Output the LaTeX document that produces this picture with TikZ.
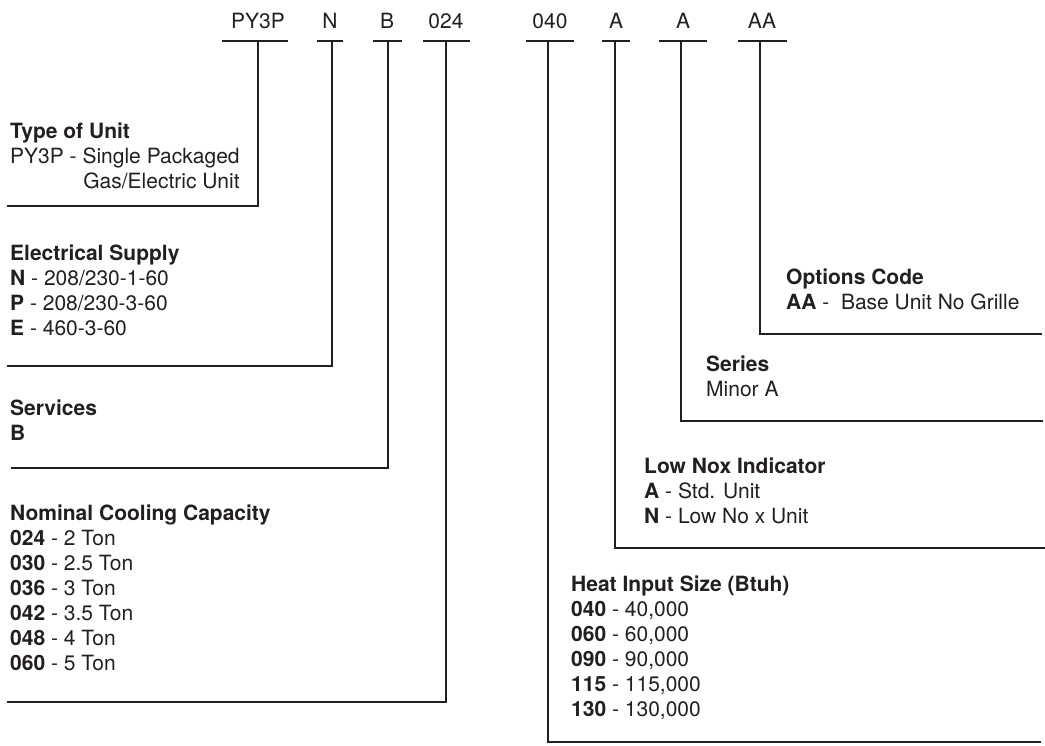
\documentclass[tikz,border=0pt]{standalone}
\usepackage{fontspec}
\setmainfont{TeX Gyre Heros}
\usepackage{calc}
\definecolor{ink}{HTML}{231F20}
\tikzset{
  code/.style={font=\fontsize{21}{25}\selectfont, text=ink, inner sep=0pt},
  block/.style={code, align=left, anchor=north west},
  tee/.style={line width=2.7pt, draw=ink},
  leader/.style={line width=2.7pt, draw=ink, line cap=rect}
}
\begin{document}
\begin{tikzpicture}[x=1pt,y=-1pt]
\useasboundingbox (0,0) rectangle (1045,745);
\node [code] (py3p) at (258,21) {PY3P};
\node [code] (volt) at (330,21) {N};
\node [code] (serv) at (387,21) {B};
\node [code] (cool) at (446,21) {024};
\node [code] (heat) at (550,21) {040};
\node [code] (nox) at (616,21) {A};
\node [code] (ser) at (683,21) {A};
\node [code] (opt) at (762,21) {AA};
\draw [tee] (222,41) -- (288,41);
\draw [tee] (317,41) -- (343,41);
\draw [tee] (373,41) -- (402,41);
\draw [tee] (423,41) -- (470,41);
\draw [tee] (526,41) -- (574,41);
\draw [tee] (602,41) -- (630,41);
\draw [tee] (659,41) -- (707,41);
\draw [tee] (738,41) -- (787,41);
\coordinate (py3p-s) at (258,41);
\coordinate (volt-s) at (332,41);
\coordinate (serv-s) at (388,41);
\coordinate (cool-s) at (446,41);
\coordinate (heat-s) at (548,41);
\coordinate (nox-s) at (615,41);
\coordinate (ser-s) at (681,41);
\coordinate (opt-s) at (760,41);
\coordinate (py3p-e) at (8,206);
\coordinate (volt-e) at (8,366);
\coordinate (serv-e) at (12,468);
\coordinate (cool-e) at (8,702);
\coordinate (heat-e) at (1040,742);
\coordinate (nox-e) at (1045,548);
\coordinate (ser-e) at (1042,421);
\coordinate (opt-e) at (1041,334);
\draw [leader] (py3p-s) |- (py3p-e);
\draw [leader] (volt-s) |- (volt-e);
\draw [leader] (serv-s) |- (serv-e);
\draw [leader] (cool-s) |- (cool-e);
\draw [leader] (heat-s) |- (heat-e);
\draw [leader] (nox-s) |- (nox-e);
\draw [leader] (ser-s) |- (ser-e);
\draw [leader] (opt-s) |- (opt-e);
\node [block] (unit) at (10,123) {\textbf{Type of Unit}\\PY3P - Single Packaged\\\makebox[\widthof{PY3P - Single Packaged}][r]{Gas/Electric Unit}};
\node [block] (supply) at (10,245) {\textbf{Electrical Supply}\\\textbf{N} - 208/230-1-60\\\textbf{P} - 208/230-3-60\\\textbf{E} - 460-3-60};
\node [block] (services) at (10,400) {\textbf{Services}\\\textbf{B}};
\node [block] (capacity) at (10,505) {\textbf{Nominal Cooling Capacity}\\\textbf{024} - 2 Ton\\\textbf{030} - 2.5 Ton\\\textbf{036} - 3 Ton\\\textbf{042} - 3.5 Ton\\\textbf{048} - 4 Ton\\\textbf{060} - 5 Ton};
\node [block] (input) at (571,576) {\textbf{Heat Input Size (Btuh)}\\\textbf{040} - 40,000\\\textbf{060} - 60,000\\\textbf{090} - 90,000\\\textbf{115} - 115,000\\\textbf{130} - 130,000};
\node [block] (lownox) at (644,458) {\textbf{Low Nox Indicator}\\\textbf{A} - Std. Unit\\\textbf{N} - Low No x Unit};
\node [block] (series) at (706,356) {\textbf{Series}\\Minor A};
\node [block] (options) at (786,269) {\textbf{Options Code}\\\textbf{AA} - \ Base Unit No Grille};
\end{tikzpicture}
\end{document}
